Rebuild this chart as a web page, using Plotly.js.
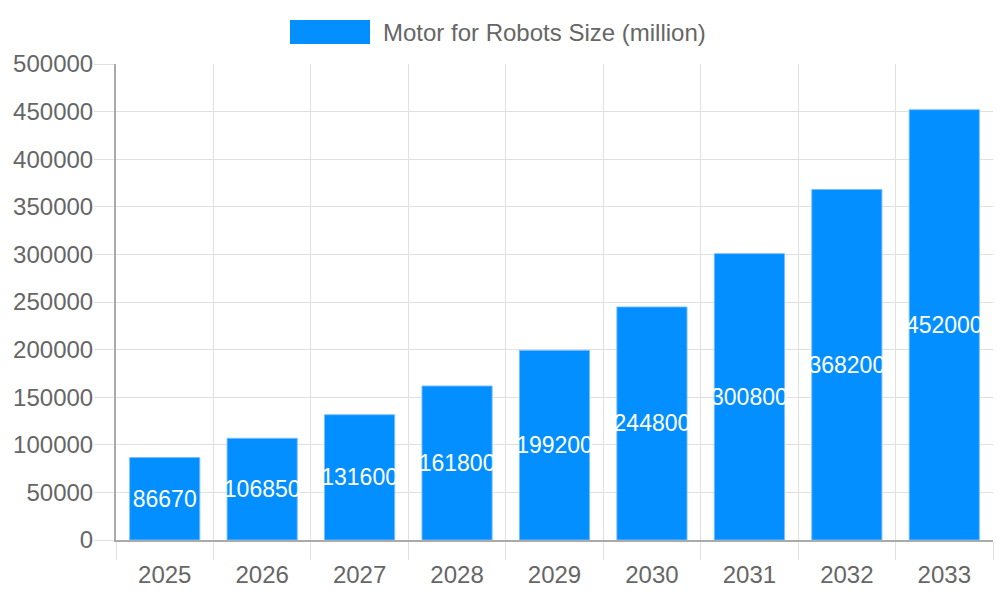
<!DOCTYPE html>
<html>
<head>
<meta charset="utf-8">
<script src="https://cdn.plot.ly/plotly-3.0.1.min.js"></script>
<style>
  html, body { margin: 0; padding: 0; background: #fff; }
  #plot { width: 1000px; height: 600px; }
</style>
</head>
<body>
<div id="plot"></div>
<script>
const years = ['2025', '2026', '2027', '2028', '2029', '2030', '2031', '2032', '2033'];
const sizes = [86670, 106850, 131600, 161800, 199200, 244800, 300800, 368200, 452000];
const seriesName = 'Motor for Robots Size (million)';

const barColor = 'rgb(3, 143, 255)';
const gridColor = '#e0e0e0';
const textColor = '#666666';

const trace = {
    x: years,
    y: sizes,
    type: 'bar',
    name: seriesName,
    text: sizes.map(String),
    textposition: 'inside',
    insidetextanchor: 'middle',
    textangle: 0,
    constraintext: 'none',
    textfont: { color: '#ffffff', size: 23, family: 'Liberation Sans, Arial, sans-serif' },
    marker: {
        color: barColor,
        line: { color: 'rgba(120, 190, 255, 0.9)', width: 1 },
    },
    hoverinfo: 'x+y',
};

const layout = {
    width: 1000,
    height: 600,
    margin: { l: 116, r: 7, t: 64, b: 60 },
    paper_bgcolor: '#ffffff',
    plot_bgcolor: '#ffffff',
    font: { family: 'Liberation Sans, Arial, sans-serif', color: textColor, size: 24 },
    showlegend: false,
    bargap: 0.28,
    xaxis: {
        type: 'category',
        range: [-0.5, 8.5],
        tickson: 'boundaries',
        ticks: 'outside',
        ticklen: 18,
        tickcolor: gridColor,
        ticklabelstandoff: 12,
        showgrid: true,
        gridcolor: gridColor,
        showline: true,
        linecolor: '#aaaaaa',
        linewidth: 2,
        tickfont: { size: 24, color: textColor },
        zeroline: false,
    },
    yaxis: {
        range: [0, 500000],
        dtick: 50000,
        tickformat: 'd',
        ticks: 'outside',
        ticklen: 20,
        tickcolor: gridColor,
        ticklabelstandoff: -4,
        showgrid: true,
        gridcolor: gridColor,
        showline: true,
        linecolor: '#aaaaaa',
        linewidth: 2,
        zeroline: false,
        tickfont: { size: 24, color: textColor },
    },
    shapes: [{
        type: 'rect',
        xref: 'paper', yref: 'paper',
        x0: (290 - 116) / 877, x1: (370 - 116) / 877,
        y0: (540 - 44) / 476, y1: (540 - 20) / 476,
        fillcolor: barColor,
        line: { width: 0 },
    }],
    annotations: [{
        xref: 'paper', yref: 'paper',
        x: (381 - 116) / 877, y: (540 - 32) / 476,
        xanchor: 'left', yanchor: 'middle',
        text: seriesName,
        showarrow: false,
        font: { size: 24, color: textColor },
    }],
};

const config = {
    displayModeBar: false,
    staticPlot: true,
};

Plotly.newPlot('plot', [trace], layout, config);
</script>
</body>
</html>
